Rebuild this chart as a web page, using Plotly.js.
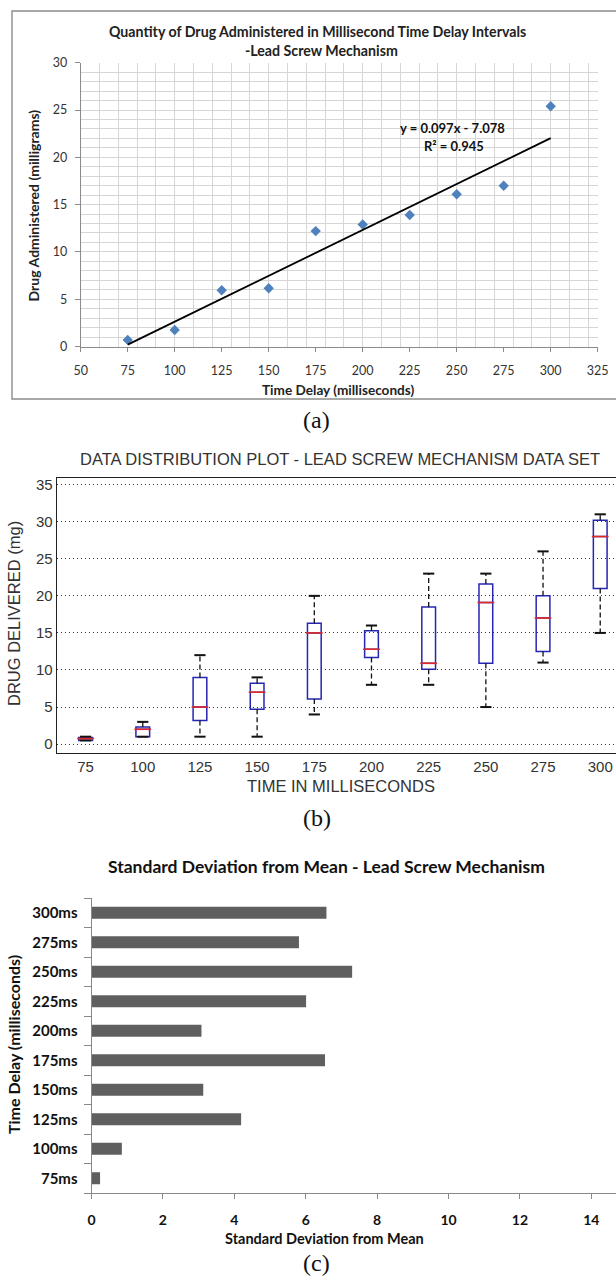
<!DOCTYPE html>
<html><head><meta charset="utf-8">
<script src="https://cdn.plot.ly/plotly-3.0.1.min.js"></script>
<style>html,body{margin:0;padding:0;background:#fff;}#chart{width:616px;height:1276px;}</style>
</head><body><div id="chart"></div>
<script>
// ---------- (a) scatter with linear trendline ----------
const delayA = [75, 100, 125, 150, 175, 200, 225, 250, 275, 300];
const drugA = [0.7, 1.75, 5.95, 6.15, 12.2, 12.9, 13.9, 16.1, 17.0, 25.4];
const trendSlope = 0.097;
const trendIntercept = -7.078;
const trendX = [75, 300];
const trendY = trendX.map(x => trendSlope * x + trendIntercept);
const eqText = 'y = 0.097x - 7.078';
const r2Text = 'R² = 0.945';

// ---------- (b) box plot ----------
const delayB = [75, 100, 125, 150, 175, 200, 225, 250, 275, 300];
const whiskerLow = [0.5, 1, 1, 1, 4, 8, 8, 5, 11, 15];
const q1B = [0.5, 1, 3.2, 4.7, 6.1, 11.7, 10.1, 10.9, 12.5, 21];
const medianB = [0.75, 2, 5, 7, 15, 12.8, 10.9, 19.1, 17, 28];
const q3B = [0.9, 2.3, 9, 8.2, 16.3, 15.3, 18.5, 21.6, 20, 30.2];
const whiskerHigh = [1, 3, 12, 9, 20, 16, 23, 23, 26, 31];
const yTicksB = [0, 5, 10, 15, 20, 25, 30, 35];

// ---------- (c) horizontal bars ----------
const delayLabelsC = ['75ms', '100ms', '125ms', '150ms', '175ms', '200ms', '225ms', '250ms', '275ms', '300ms'];
const stdDevC = [0.24, 0.85, 4.19, 3.13, 6.54, 3.08, 6.01, 7.30, 5.81, 6.58];

// ---------- helpers ----------
const W = 616, H = 1276;
const px = v => v / W;
const py = v => 1 - v / H;

const wx = [], wy = [];
delayB.forEach((t, i) => {
  wx.push(t, t, null, t, t, null);
  wy.push(q3B[i], whiskerHigh[i], null, q1B[i], whiskerLow[i], null);
});

const calibri = 'Lato, "Open Sans", sans-serif';
const arial = '"Liberation Sans", Arial, sans-serif';
const times = '"Liberation Serif", "Times New Roman", serif';

const traces = [
  { type: 'scatter', mode: 'markers', x: delayA, y: drugA, xaxis: 'x', yaxis: 'y',
    marker: { symbol: 'diamond', size: 8, color: '#4F81BD' }, hoverinfo: 'skip' },
  { type: 'scatter', mode: 'lines', x: trendX, y: trendY, xaxis: 'x4', yaxis: 'y',
    line: { color: '#000', width: 1.8 }, hoverinfo: 'skip' },

  { type: 'box', x: delayB, q1: q1B, median: medianB, q3: q3B, lowerfence: q1B, upperfence: q3B,
    width: 6, whiskerwidth: 0, boxpoints: false, xaxis: 'x2', yaxis: 'y2',
    line: { color: '#2626b4', width: 1.5 }, fillcolor: 'rgba(255,255,255,0)', hoverinfo: 'skip' },
  { type: 'scatter', mode: 'lines', x: wx, y: wy, xaxis: 'x2', yaxis: 'y2', connectgaps: false,
    line: { color: '#111', width: 1.3, dash: '5px,3px' }, hoverinfo: 'skip' },
  { type: 'scatter', mode: 'markers', x: delayB.concat(delayB), y: whiskerHigh.concat(whiskerLow),
    xaxis: 'x2', yaxis: 'y2',
    marker: { symbol: 'line-ew', size: 8, line: { color: '#111', width: 2 } }, hoverinfo: 'skip' },
  { type: 'scatter', mode: 'markers', x: delayB, y: medianB, xaxis: 'x2', yaxis: 'y2',
    marker: { symbol: 'line-ew', size: 12, line: { color: '#e02a2a', width: 1.6 } }, hoverinfo: 'skip' },

  { type: 'bar', orientation: 'h', x: stdDevC, y: delayLabelsC, xaxis: 'x3', yaxis: 'y3',
    width: 0.4, marker: { color: '#5f5f5f' }, hoverinfo: 'skip' }
];

const gridA = '#d6d6d6';
const axA = '#8a8a8a';

const layout = {
  width: W, height: H,
  margin: { l: 0, r: 0, t: 0, b: 0 },
  paper_bgcolor: '#fff', plot_bgcolor: '#fff',
  showlegend: false,
  xaxis: { domain: [px(80.7), px(597.7)], anchor: 'y', range: [50, 325], tick0: 50, dtick: 25,
    ticks: 'outside', ticklen: 4, tickcolor: axA, showline: true, linecolor: axA,
    showgrid: false, zeroline: false, ticklabelstandoff: 8,
    tickfont: { family: calibri, size: 12.5, color: '#333' } },
  xaxis4: { overlaying: 'x', anchor: 'y', range: [50, 325], tick0: 50, dtick: 10,
    showgrid: true, gridcolor: gridA, showticklabels: false, ticks: '', showline: false, zeroline: false },
  yaxis: { domain: [py(346.5), py(62.7)], anchor: 'x', range: [0, 30], tick0: 0, dtick: 5,
    ticks: 'outside', ticklen: 5, tickcolor: axA, showline: true, linecolor: axA,
    showgrid: true, gridcolor: gridA, zeroline: false, ticklabelstandoff: 5,
    minor: { dtick: 1, showgrid: true, gridcolor: gridA },
    tickfont: { family: calibri, size: 12.5, color: '#333' } },

  xaxis2: { domain: [px(57), 1], anchor: 'y2', range: [62.5, 306.9], tickmode: 'array', tickvals: delayB,
    ticks: '', showline: true, mirror: true, linecolor: '#222', linewidth: 1.3,
    showgrid: false, zeroline: false, ticklabelstandoff: 0,
    tickfont: { family: arial, size: 15, color: '#333' } },
  yaxis2: { domain: [py(753), py(478)], anchor: 'x2', range: [-1.2, 35.9], tickmode: 'array', tickvals: yTicksB,
    ticks: '', showline: true, linecolor: '#222', linewidth: 1.3,
    showgrid: true, gridcolor: '#333', gridwidth: 1, griddash: '1px,3px', zeroline: false,
    tickfont: { family: arial, size: 15, color: '#333' } },

  xaxis3: { domain: [px(91.5), 1], anchor: 'y3', range: [0, 14.69], tick0: 0, dtick: 2,
    ticks: 'outside', ticklen: 5, tickcolor: '#888', showline: true, linecolor: '#888',
    showgrid: false, zeroline: false, ticklabelstandoff: 9,
    tickfont: { family: calibri, size: 14, color: '#111', weight: 'bold' } },
  yaxis3: { domain: [py(1193), py(898)], anchor: 'x3', type: 'category',
    categoryorder: 'array', categoryarray: delayLabelsC, tickson: 'boundaries',
    ticks: 'outside', ticklen: 7, tickcolor: '#888', showline: true, linecolor: '#888',
    showgrid: false, zeroline: false, ticklabelstandoff: 10,
    tickfont: { family: calibri, size: 15, color: '#111', weight: 'bold' } },

  shapes: [
    { type: 'rect', xref: 'paper', yref: 'paper', x0: px(12), x1: px(630), y0: py(399), y1: py(11),
      line: { color: '#8c8c8c', width: 1.4 }, fillcolor: 'rgba(0,0,0,0)' }
  ],

  annotations: [
    { text: 'Quantity of Drug Administered in Millisecond Time Delay Intervals', xref: 'paper', yref: 'paper',
      x: px(317), y: py(31.7), xanchor: 'center', yanchor: 'middle', showarrow: false,
      font: { family: calibri, size: 14.2, color: '#222', weight: 'bold' } },
    { text: '-Lead Screw Mechanism', xref: 'paper', yref: 'paper',
      x: px(321), y: py(50), xanchor: 'center', yanchor: 'middle', showarrow: false,
      font: { family: calibri, size: 14.2, color: '#222', weight: 'bold' } },
    { text: 'Drug Administered (milligrams)', xref: 'paper', yref: 'paper', textangle: -90,
      x: px(33.4), y: py(205), xanchor: 'center', yanchor: 'middle', showarrow: false,
      font: { family: calibri, size: 14, color: '#222', weight: 'bold' } },
    { text: 'Time Delay (milliseconds)', xref: 'paper', yref: 'paper',
      x: px(338), y: py(390), xanchor: 'center', yanchor: 'middle', showarrow: false,
      font: { family: calibri, size: 13.6, color: '#222', weight: 'bold' } },
    { text: eqText, xref: 'x', yref: 'y', x: 247.5, y: 23.1, xanchor: 'center', yanchor: 'middle', showarrow: false,
      font: { family: calibri, size: 13, color: '#111', weight: 'bold' } },
    { text: r2Text, xref: 'x', yref: 'y', x: 248.6, y: 21.2, xanchor: 'center', yanchor: 'middle', showarrow: false,
      font: { family: calibri, size: 13, color: '#111', weight: 'bold' } },
    { text: '(a)', xref: 'paper', yref: 'paper', x: px(316), y: py(420), xanchor: 'center', yanchor: 'middle',
      showarrow: false, font: { family: times, size: 24, color: '#111' } },

    { text: 'DATA DISTRIBUTION PLOT - LEAD SCREW MECHANISM DATA SET', xref: 'paper', yref: 'paper',
      x: px(340), y: py(459), xanchor: 'center', yanchor: 'middle', showarrow: false,
      font: { family: arial, size: 16.5, color: '#333' } },
    { text: 'TIME IN MILLISECONDS', xref: 'paper', yref: 'paper',
      x: px(341), y: py(786), xanchor: 'center', yanchor: 'middle', showarrow: false,
      font: { family: arial, size: 16.5, color: '#333' } },
    { text: 'DRUG DELIVERED (mg)', xref: 'paper', yref: 'paper', textangle: -90,
      x: px(14), y: py(614), xanchor: 'center', yanchor: 'middle', showarrow: false,
      font: { family: arial, size: 16.5, color: '#333' } },
    { text: '(b)', xref: 'paper', yref: 'paper', x: px(317), y: py(818), xanchor: 'center', yanchor: 'middle',
      showarrow: false, font: { family: times, size: 24, color: '#111' } },

    { text: 'Standard Deviation from Mean - Lead Screw Mechanism', xref: 'paper', yref: 'paper',
      x: px(326), y: py(866), xanchor: 'center', yanchor: 'middle', showarrow: false,
      font: { family: calibri, size: 17.5, color: '#111', weight: 'bold' } },
    { text: 'Standard Deviation from Mean', xref: 'paper', yref: 'paper',
      x: px(324), y: py(1238), xanchor: 'center', yanchor: 'middle', showarrow: false,
      font: { family: calibri, size: 14.5, color: '#111', weight: 'bold' } },
    { text: 'Time Delay (milliseconds)', xref: 'paper', yref: 'paper', textangle: -90,
      x: px(13), y: py(1045), xanchor: 'center', yanchor: 'middle', showarrow: false,
      font: { family: calibri, size: 16, color: '#111', weight: 'bold' } },
    { text: '(c)', xref: 'paper', yref: 'paper', x: px(316), y: py(1263), xanchor: 'center', yanchor: 'middle',
      showarrow: false, font: { family: times, size: 24, color: '#111' } }
  ]
};

Plotly.newPlot('chart', traces, layout, { staticPlot: true, displayModeBar: false });
</script>
</body></html>
